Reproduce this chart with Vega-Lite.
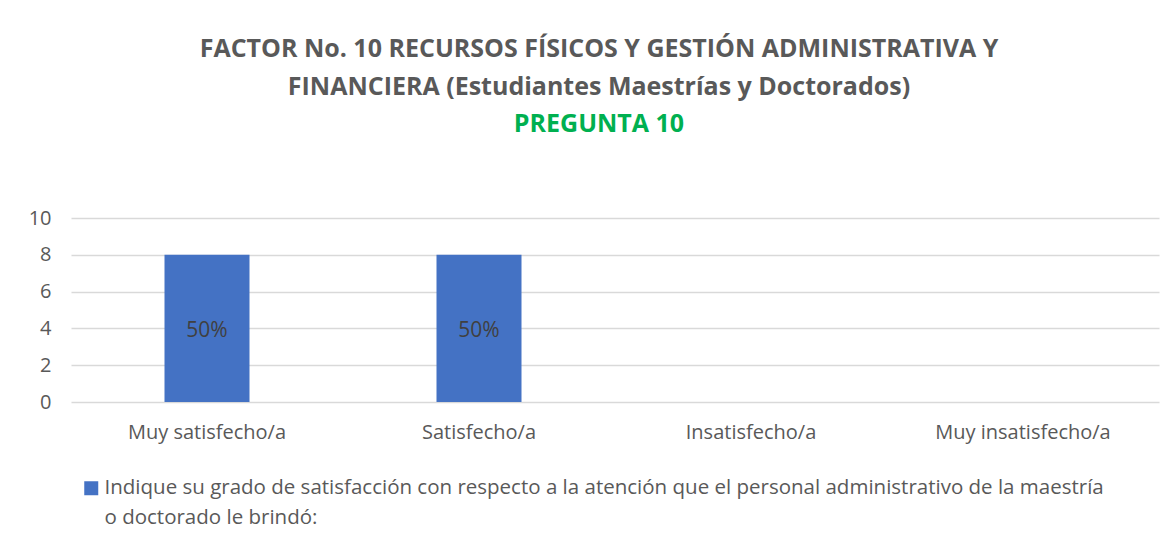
{
  "$schema": "https://vega.github.io/schema/vega-lite/v6.json",
  "autosize": "none",
  "width": 1088,
  "height": 184,
  "padding": {"left": 71, "top": 218, "right": 15, "bottom": 144},
  "background": "white",
  "title": {
    "text": ["FACTOR No. 10 RECURSOS FÍSICOS Y GESTIÓN ADMINISTRATIVA Y", "FINANCIERA (Estudiantes Maestrías y Doctorados)"],
    "subtitle": "PREGUNTA 10",
    "anchor": "middle",
    "frame": "group",
    "dx": -16,
    "offset": 71,
    "font": "Open Sans",
    "fontSize": 25,
    "fontWeight": "bold",
    "color": "#595959",
    "lineHeight": 38,
    "subtitleFont": "Open Sans",
    "subtitleFontSize": 25,
    "subtitleFontWeight": "bold",
    "subtitleColor": "#00b050",
    "subtitlePadding": 12,
    "subtitleLineHeight": 38
  },
  "data": {
    "values": [
      {"categoria": "Muy satisfecho/a", "valor": 8, "etiqueta": "50%", "serie": "Indique su grado de satisfacción con respecto a la atención que el personal administrativo de la maestría|o doctorado le brindó:"},
      {"categoria": "Satisfecho/a", "valor": 8, "etiqueta": "50%", "serie": "Indique su grado de satisfacción con respecto a la atención que el personal administrativo de la maestría|o doctorado le brindó:"},
      {"categoria": "Insatisfecho/a", "valor": 0, "etiqueta": "", "serie": "Indique su grado de satisfacción con respecto a la atención que el personal administrativo de la maestría|o doctorado le brindó:"},
      {"categoria": "Muy insatisfecho/a", "valor": 0, "etiqueta": "", "serie": "Indique su grado de satisfacción con respecto a la atención que el personal administrativo de la maestría|o doctorado le brindó:"}
    ]
  },
  "encoding": {
    "x": {
      "field": "categoria",
      "type": "nominal",
      "sort": null,
      "scale": {"paddingInner": 0.6875, "paddingOuter": 0.34375},
      "axis": {
        "title": null,
        "labelAngle": 0,
        "ticks": false,
        "domain": false,
        "labelPadding": 20,
        "labelFont": "Open Sans",
        "labelFontSize": 20,
        "labelColor": "#595959"
      }
    }
  },
  "layer": [
    {
      "mark": {"type": "bar", "color": "#4472c4"},
      "encoding": {
        "y": {
          "field": "valor",
          "type": "quantitative",
          "scale": {"domain": [0, 10]},
          "axis": {
            "title": null,
            "values": [0, 2, 4, 6, 8, 10],
            "labelOverlap": false,
            "ticks": false,
            "domain": false,
            "labelPadding": 20,
            "labelFont": "Open Sans",
            "labelFontSize": 20,
            "labelColor": "#595959",
            "gridColor": "#d9d9d9",
            "gridWidth": 1.5
          }
        },
        "color": {
          "field": "serie",
          "type": "nominal",
          "scale": {"range": ["#4472c4"]},
          "legend": {
            "title": null,
            "orient": "none",
            "legendX": 10,
            "legendY": 260,
            "symbolType": "square",
            "symbolSize": 196,
            "symbolStrokeWidth": 0,
            "symbolOpacity": 1,
            "labelExpr": "split(datum.label, '|')",
            "labelLimit": 0,
            "labelFont": "Open Sans",
            "labelFontSize": 20.5,
            "labelColor": "#595959",
            "labelOffset": 3,
            "labelBaseline": "middle",
            "encode": {
              "labels": {"update": {"lineHeight": {"value": 30}}}
            }
          }
        }
      }
    },
    {
      "mark": {"type": "text", "font": "Open Sans", "fontSize": 21, "color": "#404040", "dy": 3},
      "encoding": {
        "y": {
          "datum": 4,
          "type": "quantitative",
          "scale": {"domain": [0, 10]},
          "axis": {
            "title": null,
            "values": [0, 2, 4, 6, 8, 10],
            "labelOverlap": false,
            "ticks": false,
            "domain": false,
            "labelPadding": 20,
            "labelFont": "Open Sans",
            "labelFontSize": 20,
            "labelColor": "#595959",
            "gridColor": "#d9d9d9",
            "gridWidth": 1.5
          }
        },
        "text": {"field": "etiqueta"}
      }
    }
  ],
  "config": {"view": {"stroke": null}}
}
